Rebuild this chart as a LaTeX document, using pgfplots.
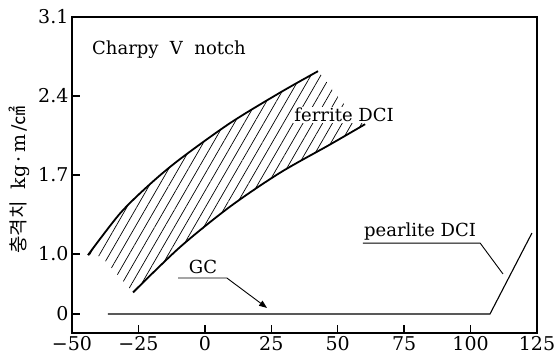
\documentclass[border=0pt]{standalone}
\usepackage{pgfplots}
\pgfplotsset{compat=1.18}
\usepackage{fontspec}
\setmainfont{DejaVu Serif}
\newfontfamily\cjk{Noto Sans CJK KR}
\usetikzlibrary{patterns.meta,arrows.meta}
\begin{document}
\begin{tikzpicture}
\useasboundingbox (-72pt,-26pt) rectangle (483pt,333pt);
\begin{axis}[
 scale only axis, width=465pt, height=316pt,
 at={(0,0)}, anchor=south west,
 xmin=-50, xmax=125, ymin=0.3, ymax=3.1,
 xtick={-50,-25,0,25,50,75,100,125},
 xticklabels={−50,−25,0,25,50,75,100,125},
 ytick={0.468,1.0,1.7,2.4,3.1},
 yticklabels={0,1.0,1.7,2.4,3.1},
 xtick pos=bottom, ytick pos=left,
 tick align=inside, major tick length=8pt,
 tick style={line width=1.5pt, black},
 axis line style={line width=1.5pt},
 ticklabel style={font=\fontsize{19}{21}\selectfont},
 clip=false,
]
% hatched band (ferrite DCI)
\addplot[draw=none, pattern={Lines[angle=60,distance=8.5pt,line width=0.7pt]}] coordinates {
 (-44.0,0.99) (-31.9,1.36) (-20.6,1.62) (-9.4,1.84) (9.5,2.16) (28.3,2.43) (42.6,2.62)
 (55.0,2.25) (60.3,2.15)
 (47.1,1.97) (28.3,1.72) (9.5,1.42) (-9.4,1.06) (-27.0,0.66) (-39.0,0.98)
} -- cycle;
% upper bound
\addplot[line width=1.8pt, smooth, tension=0.5] coordinates {
 (-44.0,0.99) (-31.9,1.36) (-20.6,1.62) (-9.4,1.84) (9.5,2.16) (28.3,2.43) (42.6,2.62)
};
% lower bound
\addplot[line width=1.8pt, smooth, tension=0.5] coordinates {
 (-27.0,0.66) (-9.4,1.06) (9.5,1.42) (28.3,1.72) (47.1,1.97) (60.3,2.15)
};
% pearlite DCI / GC baseline
\addplot[line width=1.1pt] coordinates {
 (-36.5,0.468) (107.3,0.468) (123.1,1.186)
};
% GC leader with arrow
\addplot[line width=0.9pt, -{Triangle[length=8pt,width=6pt]}] coordinates {
 (-10.1,0.787) (8.3,0.787) (23.4,0.522)
};
% pearlite DCI leader
\addplot[line width=0.9pt] coordinates {
 (59.5,1.097) (103.6,1.097) (112.2,0.823)
};
\node[fill=white, inner sep=1pt, font=\fontsize{18}{20}\selectfont] at (axis cs:52.4,2.232) {ferrite DCI};
\node[font=\fontsize{18}{20}\selectfont] at (axis cs:-0.7,0.885) {GC};
\node[font=\fontsize{18}{20}\selectfont] at (axis cs:81.0,1.195) {pearlite DCI};
\node[font=\fontsize{18}{20}\selectfont] at (axis cs:-13.5,2.81) {Charpy\ \ V\ \ notch};
\node[rotate=90, font=\fontsize{19}{21}\selectfont] at ([xshift=-53pt]axis cs:-50,1.656) {{\cjk 충격치}\ \ kg\,·\,m\,/{\cjk ㎠}};
\end{axis}
\end{tikzpicture}
\end{document}
